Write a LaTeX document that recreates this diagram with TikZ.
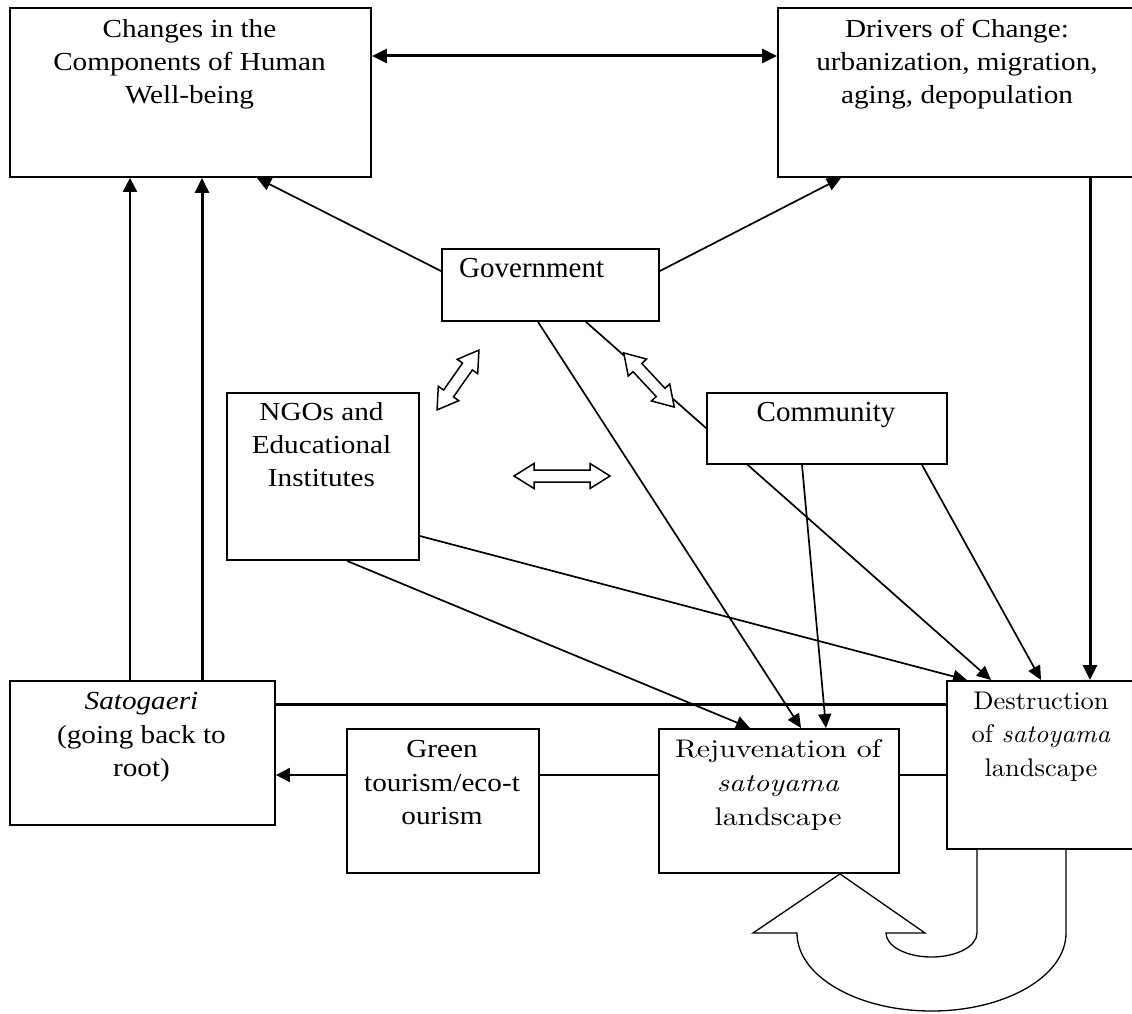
\documentclass[tikz,border=0pt]{standalone}
\usepackage{fontspec}
\setmainfont{Liberation Serif}[FakeStretch=1.123]
\newfontfamily\plainfont{Liberation Serif}
\newfontfamily\rejfont{lmroman10-regular.otf}[ItalicFont=lmroman10-italic.otf, FakeStretch=1.17]
\newfontfamily\desfont{lmroman10-regular.otf}[ItalicFont=lmroman10-italic.otf, FakeStretch=1.04]
\usetikzlibrary{arrows.meta,calc}
\pgfdeclarelayer{back}
\pgfdeclarelayer{bg}
\pgfsetlayers{back,bg,main}
\tikzset{
  box/.style={draw, line width=1.9pt, fill=white, inner sep=0pt, anchor=north west},
  txt/.style={align=center, inner sep=0pt, anchor=base},
  tnorm/.style={font=\fontsize{26}{33.3}\selectfont},
  conn/.style={line width=1.7pt},
  arr/.style={conn, -{Triangle[length=14pt,width=13pt]}},
  thk/.style={line width=3pt},
  thkarr/.style={thk, -{Triangle[length=15pt,width=14pt]}},
  uturn/.style={line width=1.3pt, line join=miter, fill=white},
  hollow/.style={line width=1.5pt, line join=miter, fill=white},
  pics/hollowdbl/.style={code={
    \draw[hollow] (-#1/2,0) -- (-#1/2+20,12.5) -- (-#1/2+20,6) -- (#1/2-20,6)
      -- (#1/2-20,12.5) -- (#1/2,0) -- (#1/2-20,-12.5) -- (#1/2-20,-6)
      -- (-#1/2+20,-6) -- (-#1/2+20,-12.5) -- cycle;
  }}
}
\begin{document}
\begin{tikzpicture}[x=1pt,y=1pt]
\useasboundingbox (0,0) rectangle (1132,-1014);
\begin{pgfonlayer}{back}
\fill[white] (0,0) rectangle (1132,-1014);
\end{pgfonlayer}

% boxes
\node[box, minimum width=361pt, minimum height=169pt] (hwb) at (9,-7) {};
\node[box, minimum width=358pt, minimum height=169pt] (drv) at (777,-7) {};
\node[box, minimum width=217pt, minimum height=72pt] (gov) at (441,-248) {};
\node[box, minimum width=192pt, minimum height=167pt] (ngo) at (226,-392) {};
\node[box, minimum width=240pt, minimum height=71pt] (com) at (706,-392) {};
\node[box, minimum width=265pt, minimum height=144pt] (sat) at (9,-680) {};
\node[box, minimum width=192pt, minimum height=144pt] (grn) at (346,-728) {};
\node[box, minimum width=240pt, minimum height=144pt] (rej) at (658,-728) {};
\node[box, minimum width=189pt, minimum height=168pt] (des) at (946,-680) {};

% texts (anchor = baseline of the last line)
\node[txt, tnorm] (hwbt) at (189.5,-103.9) {Changes in the\\Components of Human\\Well-being};
\node[txt, tnorm] (drvt) at (957,-103.9) {Drivers of Change:\\urbanization, migration,\\aging, depopulation};
\node[inner sep=0pt, anchor=base west, font=\plainfont\fontsize{29}{34}\selectfont] (govt) at (459,-277.7) {Government};
\node[txt, font=\plainfont\fontsize{29}{34}\selectfont] (comt) at (826,-421.7) {Community};
\node[txt, font=\fontsize{26}{33}\selectfont] (ngot) at (321.5,-486.7) {NGOs and\\Educational\\Institutes};
\node[txt, tnorm] (satt) at (141.5,-776.3) {\textit{Satogaeri}\\(going back to\\root)};
\node[txt, tnorm] (grnt) at (442,-824.3) {Green\\tourism/eco-t\\ourism};
\node[txt, font=\rejfont\fontsize{25.5}{33.7}\selectfont] (rejt) at (778,-825.1) {Rejuvenation of\\\textit{satoyama}\\landscape};
\node[txt, font=\desfont\fontsize{25.5}{33.5}\selectfont] (dest) at (1041,-776) {Destruction\\of \textit{satoyama}\\landscape};

% connectors
\begin{pgfonlayer}{bg}
\draw[thk, {Triangle[length=15pt,width=14pt]}-{Triangle[length=15pt,width=14pt]}]
  ($(hwb.north east)+(0,-49)$) -- ($(drv.north west)+(0,-49)$);
\draw[arr] ($(gov.north west)+(0,-23)$) -- ($(hwb.south west)+(248,0)$);
\draw[arr] ($(gov.north east)+(0,-23)$) -- ($(drv.south west)+(64,0)$);
\draw[line width=2pt, -{Triangle[length=14pt,width=14pt]}] ($(sat.north west)+(121,0)$) -- ($(hwb.south west)+(121,0)$);
\draw[thkarr] ($(sat.north west)+(193,0)$) -- ($(hwb.south west)+(193,0)$);
\draw[thkarr] ($(drv.south west)+(313,0)$) -- ($(des.north west)+(144,0)$);
\draw[arr] ($(gov.south west)+(97,0)$) -- ($(rej.north west)+(143,0)$);
\draw[arr] ($(gov.south west)+(145,0)$) -- ($(des.north west)+(45,0)$);
\draw[arr] ($(com.south west)+(96,0)$) -- ($(rej.north west)+(168,0)$);
\draw[arr] ($(com.south west)+(216,0)$) -- ($(des.north west)+(95,0)$);
\draw[arr] ($(ngo.north east)+(0,-144)$) -- ($(des.north west)+(21,0)$);
\draw[arr] ($(ngo.south west)+(121,0)$) -- ($(rej.north west)+(92,0)$);
\draw[thk] ($(sat.north east)+(0,-24)$) -- ($(des.north west)+(0,-24)$);
\draw[line width=2pt, -{Triangle[length=14pt,width=14pt]}] ($(grn.north west)+(0,-47)$) -- ($(sat.north east)+(0,-95)$);
\draw[conn] ($(grn.north east)+(0,-47)$) -- ($(rej.north west)+(0,-47)$);
\draw[conn] ($(rej.north east)+(0,-47)$) -- ($(des.north west)+(0,-95)$);
\end{pgfonlayer}

% U-turn block arrow from destruction back to rejuvenation
\draw[uturn] ($(des.south west)+(31,0)$) -- (977,-933)
  arc[start angle=0, end angle=-180, x radius=45.5, y radius=24]
  -- (925,-933) -- ($(rej.south west)+(182,0)$) -- (753,-933) -- (797,-933)
  arc[start angle=180, end angle=360, x radius=134.5, y radius=78]
  -- ($(des.south west)+(120,0)$);

% hollow double arrows
\pic[rotate=55] at (458,-380) {hollowdbl=73};
\pic[rotate=-47] at (649,-380) {hollowdbl=74};
\pic at (562,-476) {hollowdbl=96};
\end{tikzpicture}
\end{document}
